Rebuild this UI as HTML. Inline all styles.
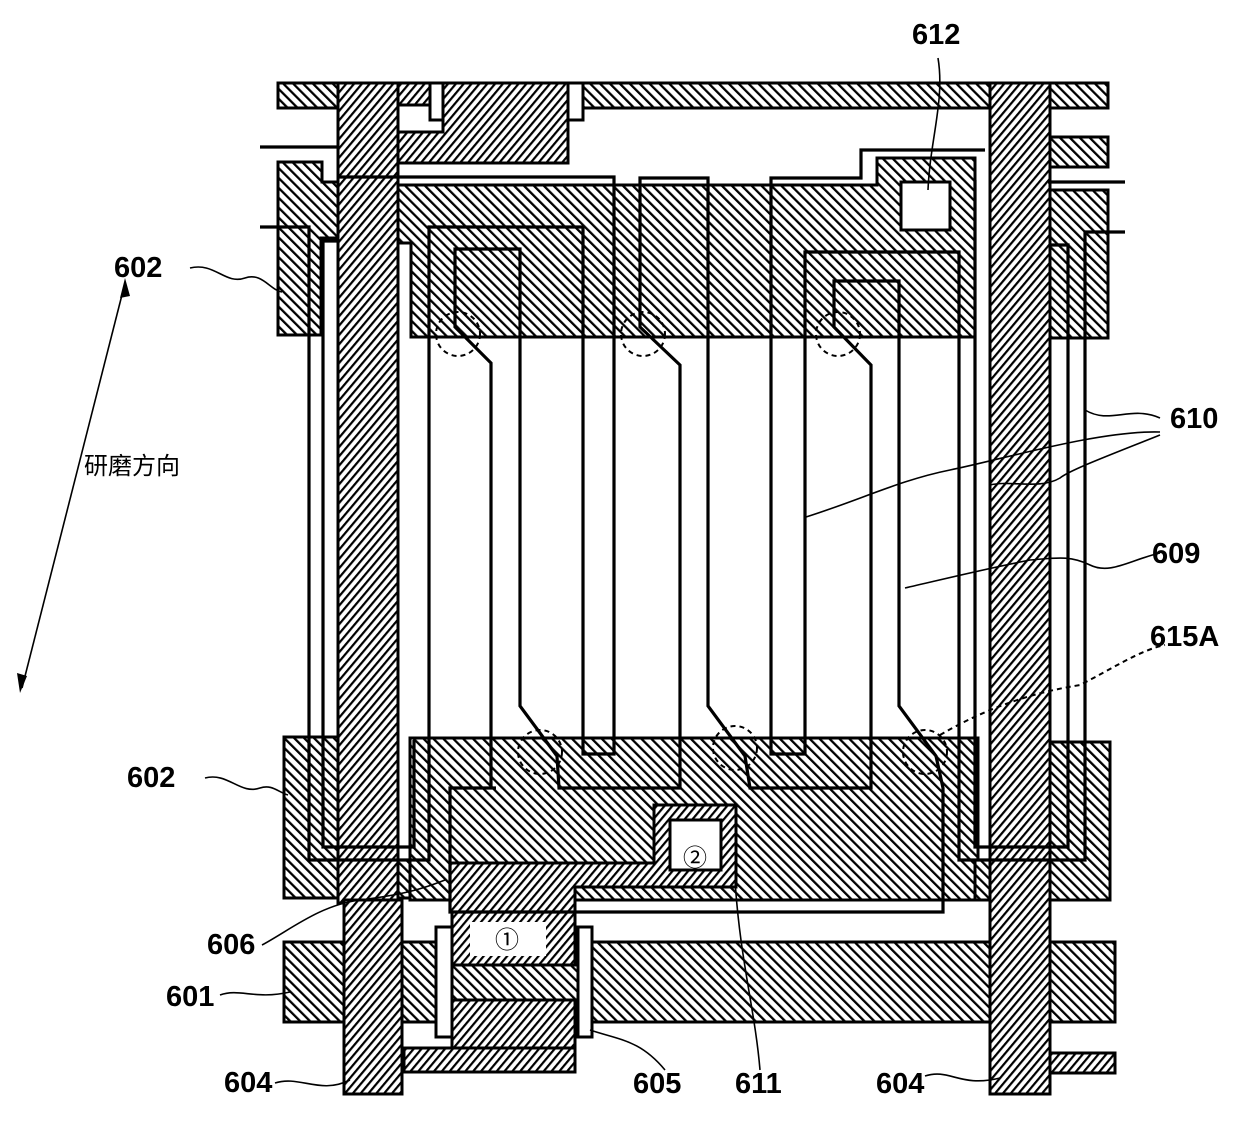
<!DOCTYPE html>
<html><head><meta charset="utf-8"><style>
html,body{margin:0;padding:0;background:#fff;}
svg{display:block;}
text{font-family:"Liberation Sans Narrow","Liberation Sans","Noto Sans CJK SC",sans-serif;font-size:29px;font-weight:bold;fill:#000;}
text.cjk{font-family:"Noto Sans CJK SC","WenQuanYi Zen Hei",sans-serif;font-size:24px;font-weight:normal;}
</style></head><body>
<svg width="1240" height="1144" viewBox="0 0 1240 1144" xmlns="http://www.w3.org/2000/svg">
<defs>
<pattern id="A" width="7" height="7" patternUnits="userSpaceOnUse" patternTransform="rotate(-45)"><rect width="7" height="7" fill="#fff"/><line x1="1" y1="0" x2="1" y2="7" stroke="#000" stroke-width="2.6"/></pattern>
<pattern id="B" width="6" height="6" patternUnits="userSpaceOnUse" patternTransform="rotate(40)"><rect width="6" height="6" fill="#fff"/><line x1="1" y1="0" x2="1" y2="6" stroke="#000" stroke-width="2.4"/></pattern>
</defs>
<g stroke="#000" stroke-width="3" stroke-linejoin="miter">
<rect x="278" y="83" width="830" height="25" fill="url(#A)"/>
<polygon points="278,162 322,162 322,182 338,182 338,238 321,238 321,335 278,335" fill="url(#A)"/>
<rect x="1048" y="137" width="60" height="30" fill="url(#A)"/>
<rect x="1050" y="190" width="58" height="148" fill="url(#A)"/>
<polygon points="396,185 877,185 877,158 975,158 975,337 411,337 411,243 396,243" fill="url(#A)"/>
<rect x="901" y="182" width="49" height="48" fill="#fff"/>
<rect x="396" y="83" width="172" height="80" fill="url(#B)"/>
<rect x="396" y="105" width="47" height="27" fill="#fff"/>
<rect x="430" y="83" width="13" height="37" fill="#fff"/>
<rect x="568" y="83" width="15" height="37" fill="#fff"/>
<polygon points="284,737 344,737 344,860 450,860 450,898 284,898" fill="url(#A)"/>
<rect x="410" y="738" width="568" height="162" fill="url(#A)"/>
<polygon points="1050,742 1110,742 1110,900 975,900 975,860 1050,860" fill="url(#A)"/>
<rect x="284" y="942" width="831" height="80" fill="url(#A)"/>
<polygon points="450,863 654,863 654,805 736,805 736,887 575,887 575,912 450,912" fill="url(#B)"/>
<rect x="670" y="820" width="51" height="50" fill="#fff"/>
<rect x="436" y="927" width="16" height="110" fill="#fff"/>
<rect x="578" y="927" width="14" height="110" fill="#fff"/>
<rect x="452" y="912" width="123" height="53" fill="url(#B)"/>
<rect x="470" y="922" width="76" height="34" fill="#fff" stroke="none"/>
<rect x="452" y="1000" width="123" height="72" fill="url(#B)"/>
<rect x="404" y="1048" width="171" height="24" fill="url(#B)"/>
<rect x="338" y="83" width="60" height="820" fill="url(#B)"/>
<rect x="344" y="900" width="58" height="194" fill="url(#B)"/>
<rect x="990" y="83" width="60" height="1011" fill="url(#B)"/>
<rect x="1050" y="1053" width="65" height="20" fill="url(#B)"/>
</g>
<g fill="none" stroke="#000" stroke-width="3.2">
<path d="M260,147 H338"/>
<path d="M260,227 H309 V860 H429 V227 H583 V754 H614 V177 H338"/>
<path d="M338,241 H323 V847 H414 V740"/>
<path d="M985,150 H861 V178 H771 V754 H805 V252 H959 V860 H1085 V232 H1125"/>
<path d="M975,180 V847 H1068 V245 H1050"/>
<path d="M1048,182 H1125"/>
<path d="M496,788 H450 V912 H943 V788 L936,756 L899,706 V281 H834 V327 L871,365 V788 H750 L745,756 L708,706 V178 H640 V327 L680,365 V788 H559 L557,756 L520,706 V249 H455 V327 L491,363 V788"/>
</g>
<g fill="none" stroke="#000" stroke-width="2" stroke-dasharray="5,4">
<circle cx="458" cy="334" r="22"/>
<circle cx="643" cy="334" r="22"/>
<circle cx="838" cy="334" r="22"/>
<circle cx="540" cy="752" r="22"/>
<circle cx="735" cy="748" r="22"/>
<circle cx="925" cy="752" r="22"/>
<path d="M940,735 C1000,700 1050,690 1080,685 C1110,670 1140,650 1165,645"/>
</g>
<g fill="none" stroke="#000" stroke-width="1.6">
<path d="M190,268 C215,262 225,285 245,278 C262,272 270,290 282,292"/>
<path d="M205,778 C228,772 240,795 260,788 C272,784 278,792 288,795"/>
<path d="M262,945 C290,930 320,905 360,900 C400,895 420,890 445,880"/>
<path d="M220,995 C240,988 255,1000 290,992"/>
<path d="M275,1083 C300,1075 320,1095 350,1080"/>
<path d="M665,1070 C640,1040 620,1040 590,1030"/>
<path d="M760,1070 C755,1010 740,960 735,880"/>
<path d="M925,1076 C950,1068 960,1088 1000,1078"/>
<path d="M1160,418 C1130,405 1110,425 1085,410"/>
<path d="M1160,432 C1100,430 1000,460 950,470 C900,480 860,500 806,517"/>
<path d="M1160,435 C1110,455 1070,470 1060,478 C1040,490 1010,480 990,485"/>
<path d="M1160,553 C1130,560 1110,575 1090,565 C1070,555 1055,558 1030,560 C980,570 940,580 905,588"/>
<path d="M938,58 C945,100 930,140 928,190"/>
<line x1="125" y1="283" x2="22" y2="688"/>
</g>
<polygon points="125,278 120,298 130,296" fill="#000"/>
<polygon points="20,693 17,673 27,676" fill="#000"/>
<text x="912" y="44">612</text>
<text x="114" y="277">602</text>
<text x="1170" y="428">610</text>
<text x="1152" y="563">609</text>
<text x="1150" y="646">615A</text>
<text x="127" y="787">602</text>
<text x="207" y="954">606</text>
<text x="166" y="1006">601</text>
<text x="224" y="1092">604</text>
<text x="633" y="1093">605</text>
<text x="735" y="1093">611</text>
<text x="876" y="1093">604</text>
<text class="cjk" x="84" y="474">研磨方向</text>
<text class="cjk" x="495" y="948">①</text>
<text class="cjk" x="683" y="866">②</text>
</svg>
</body></html>
